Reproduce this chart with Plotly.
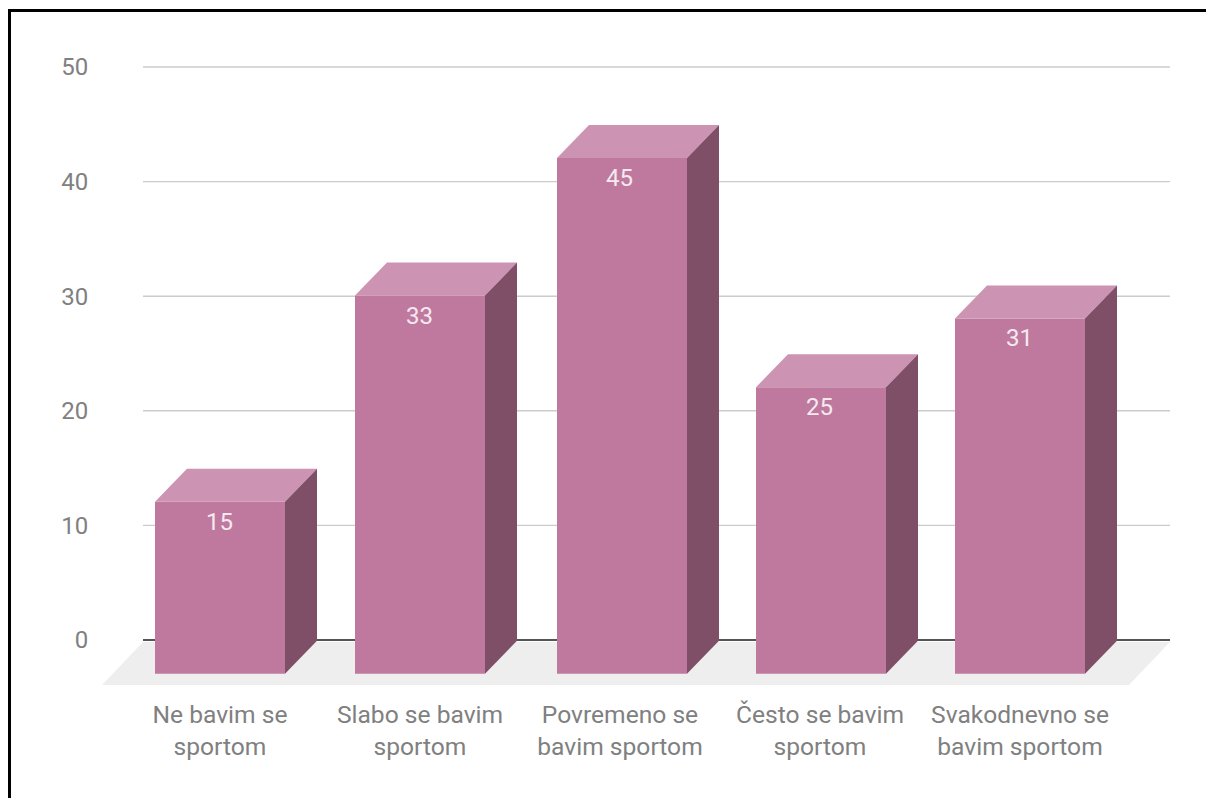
import plotly.graph_objects as go

category_line1 = ["Ne bavim se", "Slabo se bavim", "Povremeno se", "Često se bavim", "Svakodnevno se"]
category_line2 = ["sportom", "sportom", "bavim sportom", "sportom", "bavim sportom"]
values = [15, 33, 45, 25, 31]
y_ticks = [0, 10, 20, 30, 40, 50]

W, H = 1206, 798
L, R, T, B = 100, 1170, 60, 690
PX_X = 200.0
X0_PX = 220.0
PX_Y = 11.46
Y0_PX = 640.0


def xv(px):
    return (px - X0_PX) / PX_X


def yv(px):
    return (Y0_PX - px) / PX_Y


bar_w = 130 / PX_X
dx = 32 / PX_X
dy = 33 / PX_Y
base = yv(673.7)
idx = list(range(len(values)))
bar_nudge = [0, 0, 2, 1, 0]
bar_x = [i + n / PX_X for i, n in zip(idx, bar_nudge)]

FRONT = "#BF799F"
TOP = "#CC94B2"
SIDE = "#7E4F66"
FLOOR = "#EEEEEE"
TEXT = "#808080"
FS = 24

fig = go.Figure()

fig.add_trace(go.Bar(
    x=bar_x, y=values, base=base, width=bar_w,
    marker=dict(color=FRONT, line=dict(width=0)),
    hoverinfo="skip", showlegend=False))

for x, v in zip(bar_x, values):
    top = base + v
    xl, xr = x - bar_w / 2, x + bar_w / 2
    fig.add_trace(go.Scatter(
        x=[xl, xr, xr + dx, xl + dx, xl], y=[top, top, top + dy, top + dy, top],
        mode="lines", line=dict(width=0), fill="toself", fillcolor=TOP,
        hoverinfo="skip", showlegend=False))
    fig.add_trace(go.Scatter(
        x=[xr, xr + dx, xr + dx, xr, xr], y=[base, base + dy, top + dy, top, base],
        mode="lines", line=dict(width=0), fill="toself", fillcolor=SIDE,
        hoverinfo="skip", showlegend=False))

shapes = [dict(
    type="path", layer="below", xref="x", yref="y", line=dict(width=0), fillcolor=FLOOR,
    path="M %f %f L %f %f L %f %f L %f %f Z" % (
        xv(102), yv(685), xv(1129), yv(685), xv(1170), yv(642), xv(143), yv(642)))]
for t in y_ticks:
    shapes.append(dict(
        type="line", layer="below", xref="x", yref="y",
        x0=xv(143), x1=xv(1170), y0=t, y1=t,
        line=dict(color="#555555" if t == 0 else "#CCCCCC", width=2 if t == 0 else 1.4)))


def px_to_paper(px):
    return (px - L) / (R - L)


def py_to_paper(py):
    return (B - py) / (B - T)


frame = dict(type="line", layer="above", xref="paper", yref="paper", line=dict(color="#000000", width=3))
shapes.append(dict(frame, x0=px_to_paper(9.5), x1=px_to_paper(9.5), y0=py_to_paper(798), y1=py_to_paper(9)))
shapes.append(dict(frame, x0=px_to_paper(8), x1=px_to_paper(1206), y0=py_to_paper(10.5), y1=py_to_paper(10.5)))

annotations = [dict(
    x=i, y=base + v, xref="x", yref="y", text=str(v), showarrow=False,
    yanchor="top", yshift=-4, xshift=-0.5, font=dict(family="Roboto", size=FS, color="#F5E9F0"))
    for i, v in zip(idx, values)]

tick_text = [a + "<br>" + b for a, b in zip(category_line1, category_line2)]

fig.update_layout(
    width=W, height=H,
    margin=dict(l=L, r=W - R, t=T, b=H - B, pad=0),
    paper_bgcolor="white", plot_bgcolor="white",
    showlegend=False, shapes=shapes, annotations=annotations, barmode="overlay",
    font=dict(family="Roboto", color=TEXT),
    xaxis=dict(
        range=[xv(L), xv(R)], tickmode="array", tickvals=idx, ticktext=tick_text,
        showgrid=False, zeroline=False, showline=False,
        ticks="outside", ticklen=2, tickcolor="rgba(0,0,0,0)",
        tickfont=dict(family="Roboto", size=24.6, color=TEXT)),
    yaxis=dict(
        range=[yv(B), yv(T)], tickmode="array", tickvals=y_ticks,
        showgrid=False, zeroline=False, showline=False,
        ticks="outside", ticklen=6, tickcolor="rgba(0,0,0,0)",
        tickfont=dict(family="Roboto", size=FS, color=TEXT)),
)

fig.write_html("out.html", config=dict(displayModeBar=False),
               post_script="document.body.style.margin='0';document.body.style.overflow='hidden';")
